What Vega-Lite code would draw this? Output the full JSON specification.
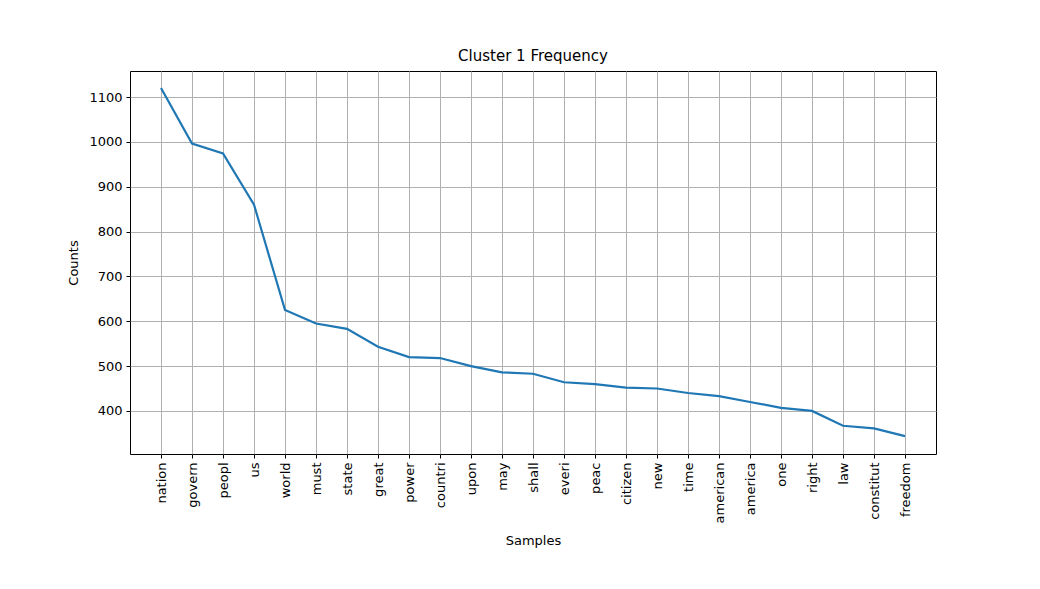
{
  "$schema": "https://vega.github.io/schema/vega-lite/v6.json",
  "width": 806,
  "height": 383,
  "autosize": {"type": "none"},
  "padding": {"left": 130, "top": 71, "right": 104, "bottom": 135},
  "background": "white",
  "title": {"text": "Cluster 1 Frequency", "font": "DejaVu Sans", "fontSize": 15, "fontWeight": "normal", "offset": 7, "color": "black"},
  "data": {"values": [
    {"word": "nation", "count": 1120},
    {"word": "govern", "count": 996},
    {"word": "peopl", "count": 974},
    {"word": "us", "count": 860},
    {"word": "world", "count": 625},
    {"word": "must", "count": 595},
    {"word": "state", "count": 583},
    {"word": "great", "count": 543},
    {"word": "power", "count": 520},
    {"word": "countri", "count": 518},
    {"word": "upon", "count": 500},
    {"word": "may", "count": 486},
    {"word": "shall", "count": 483},
    {"word": "everi", "count": 464},
    {"word": "peac", "count": 460},
    {"word": "citizen", "count": 452},
    {"word": "new", "count": 450},
    {"word": "time", "count": 440},
    {"word": "american", "count": 433},
    {"word": "america", "count": 420},
    {"word": "one", "count": 407},
    {"word": "right", "count": 400},
    {"word": "law", "count": 367},
    {"word": "constitut", "count": 361},
    {"word": "freedom", "count": 344}
  ]},
  "mark": {"type": "line", "color": "#1f77b4", "strokeWidth": 2.2},
  "encoding": {
    "x": {"field": "word", "type": "nominal", "sort": null, "title": "Samples",
      "scale": {"type": "point", "padding": 1.2, "round": false},
      "axis": {"labelAngle": -90, "grid": true, "titlePadding": 12}},
    "y": {"field": "count", "type": "quantitative", "title": "Counts",
      "scale": {"domain": [304, 1158], "nice": false, "zero": false},
      "axis": {"values": [400, 500, 600, 700, 800, 900, 1000, 1100], "format": "d"}}
  },
  "config": {
    "font": "DejaVu Sans",
    "view": {"stroke": "black", "strokeWidth": 1},
    "axis": {"labelFont": "DejaVu Sans", "titleFont": "DejaVu Sans", "labelFontSize": 13, "titleFontSize": 13,
      "titleFontWeight": "normal", "labelColor": "black", "titleColor": "black", "tickColor": "black",
      "domain": false, "gridColor": "#b0b0b0", "gridOpacity": 1, "tickSize": 4, "labelPadding": 4, "titlePadding": 8}
  }
}
